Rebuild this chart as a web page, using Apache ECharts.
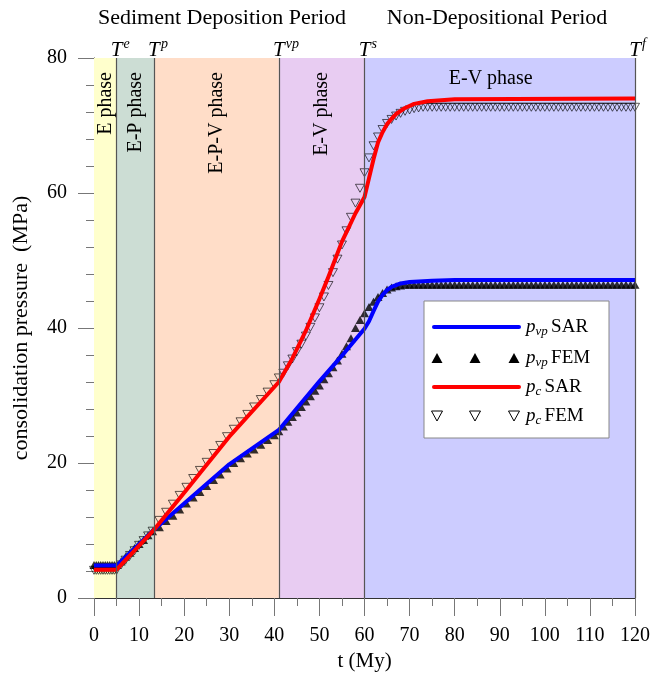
<!DOCTYPE html>
<html><head><meta charset="utf-8">
<script src="https://cdn.jsdelivr.net/npm/echarts@6/dist/echarts.min.js"></script>
<style>html,body{margin:0;padding:0;background:#fff}#c{width:665px;height:674px}</style>
</head><body><div id="c"></div><script>
// ---------- data ----------
const phaseBounds = [0, 5, 13.3, 41, 60, 120];
const phaseNames = ['E phase', 'E-P phase', 'E-P-V phase', 'E-V phase', 'E-V phase'];
const phaseColors = ['#FFFFCC', '#CCDDD4', '#FFDDC8', '#E8CCF2', '#CCCCFF'];
const boundaryT = [5, 13.3, 41, 60, 120];
const boundarySup = ['e', 'p', 'vp', 's', 'f'];
const periodNames = ['Sediment Deposition Period', 'Non-Depositional Period'];

// SAR (lines)
const sarPvpT = [0, 5, 13.3, 20, 30, 41, 45, 50, 55, 58, 60, 61, 62, 63, 64, 65, 66, 68, 70, 75, 80, 120];
const sarPvpV = [4.8, 4.8, 10.1, 14.0, 19.8, 24.9, 28.1, 32.1, 35.9, 38.3, 39.9, 41.0, 42.5, 43.9, 44.9, 45.6, 46.1, 46.6, 46.8, 47.0, 47.1, 47.1];
const sarPcT = [0, 5, 13.3, 20, 30, 41, 44, 47, 50, 52, 55, 58, 60, 61, 62, 63, 64, 65, 66, 67, 69, 71, 74, 80, 120];
const sarPcV = [4.2, 4.2, 10.1, 15.6, 23.9, 32.0, 35.5, 39.6, 44.3, 47.6, 52.8, 57.0, 59.4, 62.2, 65.0, 67.5, 69.0, 70.2, 71.0, 71.7, 72.6, 73.2, 73.6, 73.9, 74.0];

// FEM (markers)
const femT = [0, 0.5, 1, 1.5, 2, 2.5, 3, 3.5, 4, 4.5, 5,
  6, 7, 8, 9, 10, 11, 12, 13,
  14.5, 16, 17.5, 19, 20.5, 22, 23.5, 25, 26.5, 28, 29.5, 31, 32.5, 34, 35.5, 37, 38.5, 40, 41,
  42, 43, 44, 45, 46, 47, 48, 49, 50, 51, 52, 53, 54, 55, 56, 57, 58, 59, 60,
  61, 62, 63, 64, 65, 66, 67, 68, 69, 70, 71, 72, 73, 74, 75, 76, 77, 78, 79, 80,
  81, 82, 83, 84, 85, 86, 87, 88, 89, 90, 91, 92, 93, 94, 95, 96, 97, 98, 99, 100,
  101, 102, 103, 104, 105, 106, 107, 108, 109, 110, 111, 112, 113, 114, 115, 116, 117, 118, 119, 120];
const femPvp = [4.9, 4.9, 4.9, 4.9, 4.9, 4.9, 4.9, 4.9, 4.9, 4.9, 4.9,
  5.4, 6.1, 6.7, 7.4, 8.0, 8.6, 9.3, 9.9,
  10.5, 11.4, 12.2, 13.1, 14.0, 14.9, 15.7, 16.6, 17.5, 18.3, 19.2, 20.0, 20.7, 21.4, 22.0, 22.7, 23.4, 24.1, 24.7,
  25.4, 26.1, 26.8, 27.5, 28.3, 29.1, 29.9, 30.7, 31.5, 32.4, 33.3, 34.2, 35.2, 36.2, 37.3, 38.5, 40.0, 41.2, 42.2,
  43.1, 43.9, 44.6, 45.2, 45.7, 46.0, 46.2, 46.3, 46.4, 46.4, 46.4, 46.4, 46.4, 46.4, 46.4, 46.4, 46.4, 46.4, 46.4, 46.4,
  46.4, 46.4, 46.4, 46.4, 46.4, 46.4, 46.4, 46.4, 46.4, 46.4, 46.4, 46.4, 46.4, 46.4, 46.4, 46.4, 46.4, 46.4, 46.4, 46.4,
  46.4, 46.4, 46.4, 46.4, 46.4, 46.4, 46.4, 46.4, 46.4, 46.4, 46.4, 46.4, 46.4, 46.4, 46.4, 46.4, 46.4, 46.4, 46.4, 46.4];
const femPc = [4.1, 4.1, 4.1, 4.1, 4.1, 4.1, 4.1, 4.1, 4.1, 4.1, 4.1,
  4.9, 5.6, 6.3, 7.0, 7.8, 8.5, 9.2, 9.9,
  11.5, 12.7, 13.9, 15.2, 16.4, 17.7, 18.9, 20.1, 21.4, 22.6, 23.9, 25.0, 26.1, 27.2, 28.3, 29.4, 30.5, 31.6, 32.6,
  33.3, 34.4, 35.4, 36.5, 37.6, 38.8, 40.1, 41.5, 43.0, 44.6, 46.3, 48.2, 50.2, 52.3, 54.4, 56.4, 58.5, 60.7, 63.0,
  65.2, 67.0, 68.3, 69.4, 70.3, 70.9, 71.4, 71.8, 72.1, 72.3, 72.5, 72.6, 72.7, 72.7, 72.7, 72.7, 72.7, 72.7, 72.7, 72.7,
  72.7, 72.7, 72.7, 72.7, 72.7, 72.7, 72.7, 72.7, 72.7, 72.7, 72.7, 72.7, 72.7, 72.7, 72.7, 72.7, 72.7, 72.7, 72.7, 72.7,
  72.7, 72.7, 72.7, 72.7, 72.7, 72.7, 72.7, 72.7, 72.7, 72.7, 72.7, 72.7, 72.7, 72.7, 72.7, 72.7, 72.7, 72.7, 72.7, 72.7];

// ---------- chart ----------
const FONT = '"Liberation Serif", "Times New Roman", serif';
const zip = (a, b) => a.map((x, i) => [x, b[i]]);
const chart = echarts.init(document.getElementById('c'), null, {renderer: 'canvas'});

const axisCommon = {
  type: 'value',
  splitLine: {show: false},
  axisLine: {show: true, onZero: false, lineStyle: {color: '#333', width: 1}},
  axisTick: {show: true, inside: false, lineStyle: {color: '#777', width: 1}},
  minorTick: {show: true, lineStyle: {color: '#777', width: 1}},
  axisLabel: {color: '#000', fontSize: 20, fontFamily: FONT},
  nameLocation: 'middle',
  nameTextStyle: {color: '#000', fontSize: 21, fontFamily: FONT}
};

chart.setOption({
  animation: false,
  grid: {left: 94, right: 30, top: 58, bottom: 76, containLabel: false, outerBoundsMode: 'none'},
  xAxis: Object.assign({}, axisCommon, {
    min: 0, max: 120, interval: 10,
    axisTick: Object.assign({}, axisCommon.axisTick, {length: 18}),
    minorTick: Object.assign({}, axisCommon.minorTick, {splitNumber: 2, length: 8}),
    axisLabel: Object.assign({}, axisCommon.axisLabel, {margin: 28}),
    name: 't (My)', nameGap: 50
  }),
  yAxis: Object.assign({}, axisCommon, {
    min: 0, max: 80, interval: 20,
    axisTick: Object.assign({}, axisCommon.axisTick, {length: 16}),
    minorTick: Object.assign({}, axisCommon.minorTick, {splitNumber: 5, length: 8}),
    axisLabel: Object.assign({}, axisCommon.axisLabel, {margin: 27}),
    name: 'consolidation pressure  (MPa)', nameGap: 62,
    nameTextStyle: {color: '#000', fontSize: 22, fontFamily: FONT}
  }),
  series: [
    {
      name: 'phases', type: 'line', data: [], silent: true, z: 1,
      markArea: {
        silent: true,
        data: phaseNames.map((n, i) => [
          {xAxis: phaseBounds[i], itemStyle: {color: phaseColors[i]}},
          {xAxis: phaseBounds[i + 1]}
        ]),
        label: {show: false}
      },
      markLine: {
        silent: true, symbol: 'none', animation: false,
        label: {show: false},
        lineStyle: {color: '#555', width: 1.2, type: 'solid'},
        data: boundaryT.map(t => ({xAxis: t}))
      }
    },
    {
      name: 'pvp FEM', type: 'scatter', z: 3,
      symbol: 'triangle', symbolSize: [9, 8],
      itemStyle: {color: '#000'},
      data: zip(femT, femPvp)
    },
    {
      name: 'pc FEM', type: 'scatter', z: 3,
      symbol: 'triangle', symbolSize: [9, 8], symbolRotate: 180,
      itemStyle: {color: 'rgba(0,0,0,0)', borderColor: '#000', borderWidth: 0.8},
      data: zip(femT, femPc)
    },
    {
      name: 'pvp SAR', type: 'line', z: 4, showSymbol: false, smooth: false,
      lineStyle: {color: '#0000FF', width: 4, join: 'round'},
      data: zip(sarPvpT, sarPvpV)
    },
    {
      name: 'pc SAR', type: 'line', z: 4, showSymbol: false, smooth: false,
      lineStyle: {color: '#FF0000', width: 4, join: 'round'},
      data: zip(sarPcT, sarPcV)
    }
  ]
});

// ---------- annotations ----------
const px = (t, v) => chart.convertToPixel({gridIndex: 0}, [t, v]);
const g = [];
const plotTop = px(0, 80)[1];
const ZT = 50;

// period titles
g.push({type: 'text', z: ZT, x: px(28.4, 0)[0], y: 18, style: {text: periodNames[0], fontSize: 22, fontFamily: FONT, fill: '#000', align: 'center', verticalAlign: 'middle'}});
g.push({type: 'text', z: ZT, x: px(89.4, 0)[0], y: 18, style: {text: periodNames[1], fontSize: 22, fontFamily: FONT, fill: '#000', align: 'center', verticalAlign: 'middle'}});

// boundary T labels
boundaryT.forEach((t, i) => {
  const x = px(t, 0)[0];
  g.push({type: 'text', z: ZT, x: x, y: plotTop - 8, style: {text: 'T', fontSize: 21, fontStyle: 'italic', fontFamily: FONT, fill: '#000', align: 'center', verticalAlign: 'middle'}});
  g.push({type: 'text', z: ZT, x: x + 7, y: plotTop - 14, style: {text: boundarySup[i], fontSize: 14, fontStyle: 'italic', fontFamily: FONT, fill: '#000', align: 'left', verticalAlign: 'middle'}});
});

// phase labels (vertical in deposition phases, horizontal in last)
for (let i = 0; i < 4; i++) {
  const x = px((phaseBounds[i] + phaseBounds[i + 1]) / 2, 0)[0];
  g.push({type: 'text', z: ZT, x: x, y: plotTop + 14, rotation: Math.PI / 2,
    style: {text: phaseNames[i], fontSize: 20, fontFamily: FONT, fill: '#000', align: 'right', verticalAlign: 'middle'}});
}
g.push({type: 'text', z: ZT, x: px(88, 0)[0], y: plotTop + 21,
  style: {text: phaseNames[4], fontSize: 20, fontFamily: FONT, fill: '#000', align: 'center', verticalAlign: 'middle'}});

// legend box
const LX = 424, LY = 301, LW = 185, LH = 137;
g.push({type: 'rect', z: ZT, shape: {x: LX, y: LY, width: LW, height: LH}, style: {fill: '#fff', stroke: '#888', lineWidth: 1}});
const rows = [327, 358, 387, 416];
const rich = {
  p: {fontSize: 19, fontStyle: 'italic', fontFamily: FONT, lineHeight: 22, verticalAlign: 'middle'},
  s: {fontSize: 13, fontStyle: 'italic', fontFamily: FONT, lineHeight: 13, verticalAlign: 'bottom'},
  n: {fontSize: 19, fontFamily: FONT, lineHeight: 22, verticalAlign: 'middle'}
};
const legendTexts = ['{p|p}{s|vp} {n|SAR}', '{p|p}{s|vp} {n|FEM}', '{p|p}{s|c} {n|SAR}', '{p|p}{s|c} {n|FEM}'];
g.push({type: 'line', z: ZT + 1, shape: {x1: 434, y1: rows[0], x2: 519, y2: rows[0]}, style: {stroke: '#0000FF', lineWidth: 4, lineCap: 'round'}});
g.push({type: 'line', z: ZT + 1, shape: {x1: 434, y1: rows[2], x2: 519, y2: rows[2]}, style: {stroke: '#FF0000', lineWidth: 4, lineCap: 'round'}});
[437, 475, 514].forEach(cx => {
  g.push({type: 'polygon', z: ZT + 1, shape: {points: [[cx - 5.5, rows[1] + 5], [cx + 5.5, rows[1] + 5], [cx, rows[1] - 5]]}, style: {fill: '#000'}});
  g.push({type: 'polygon', z: ZT + 1, shape: {points: [[cx - 5.5, rows[3] - 5], [cx + 5.5, rows[3] - 5], [cx, rows[3] + 5]]}, style: {fill: 'none', stroke: '#000', lineWidth: 1}});
});
legendTexts.forEach((t, i) => {
  g.push({type: 'text', z: ZT + 1, x: 526, y: rows[i], style: {text: t, rich: rich, fill: '#000', align: 'left', verticalAlign: 'middle'}});
});

chart.setOption({graphic: g});
</script></body></html>
